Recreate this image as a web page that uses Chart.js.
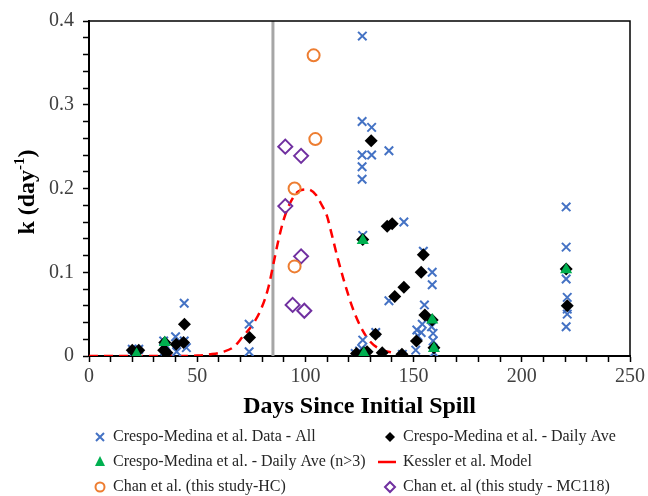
<!DOCTYPE html>
<html>
<head>
<meta charset="utf-8">
<script src="https://cdn.jsdelivr.net/npm/chart.js@4/dist/chart.umd.min.js"></script>
<style>
  body { margin: 0; background: #fff; }
  canvas { display: block; }
</style>
</head>
<body>
<canvas id="kChart" width="648" height="496"></canvas>
<script>
// Crespo-Medina et al. - all measurements
const allDays = [20, 21, 23, 22.5, 34.5, 35.5, 35, 40, 40.5, 44, 45, 44, 74, 74,
  126.3, 126.2, 130.6, 126.2, 130.6, 126.2, 126.2, 138.6, 126.5, 126.5, 126, 123, 125, 128.5, 132.5,
  145.5, 138.6, 144.8, 151.5, 151, 152, 154.5, 155, 154, 153.5,
  158.6, 158.6, 159, 159, 159.4, 158.3,
  220.5, 220.5, 220.5, 221, 221, 221, 220.5];
const allK = [0.008, 0.005, 0.008, 0.004, 0.018, 0.012, 0.006, 0.023, 0.005, 0.063, 0.010, 0.018, 0.038, 0.005,
  0.382, 0.280, 0.273, 0.240, 0.240, 0.226, 0.211, 0.245, 0.144, 0.019, 0.009, 0.003, 0.006, 0.002, 0.028,
  0.160, 0.066, 0.002, 0.031, 0.007, 0.024, 0.125, 0.061, 0.038, 0.028,
  0.100, 0.085, 0.027, 0.018, 0.004, 0.035,
  0.178, 0.130, 0.092, 0.070, 0.056, 0.050, 0.035];

// Crespo-Medina et al. - daily averages
const aveDays = [20, 23, 34.5, 35, 36, 40.3, 43.7, 44.1, 74.2, 123.6, 126.5, 127, 128.5, 130.4, 132.4,
  135.5, 137.8, 140.1, 141.3, 144.6, 145.5, 151.3, 153.5, 154.5, 155.2, 158.6, 159.4, 220.5, 221];
const aveK = [0.007, 0.007, 0.007, 0.016, 0.004, 0.014, 0.016, 0.038, 0.022, 0.003, 0.139, 0.004, 0.005, 0.257, 0.026,
  0.004, 0.155, 0.158, 0.071, 0.002, 0.082, 0.018, 0.100, 0.121, 0.049, 0.043, 0.010, 0.104, 0.060];

// Crespo-Medina et al. - daily averages with n>3
const aveN3Days = [22, 35, 126.5, 127, 158.6, 159.4, 220.5];
const aveN3K = [0.002, 0.016, 0.138, 0.003, 0.043, 0.009, 0.103];

// Kessler et al. model curve
const kesDays = [0, 40, 50, 56, 62, 67, 71, 76, 80, 83, 85.3, 87.6, 90, 93, 97, 101, 105, 107, 110, 112, 114.7, 117.7, 121.6, 125.5, 130, 134.7, 140];
const kesK = [0, 0, 0.0005, 0.002, 0.005, 0.011, 0.023, 0.039, 0.059, 0.083, 0.111, 0.139, 0.163, 0.183, 0.197, 0.199, 0.192, 0.183, 0.167, 0.147, 0.119, 0.091, 0.059, 0.035, 0.017, 0.008, 0.004];

// Chan et al. (this study)
const hcDays = [95, 95, 103.8, 104.6];
const hcK = [0.200, 0.107, 0.359, 0.259];
const mcDays = [90.7, 98, 90.7, 98, 94.1, 99.5];
const mcK = [0.250, 0.239, 0.179, 0.119, 0.061, 0.054];

// vertical marker line
const markerDay = 85;
const yRange = [0, 0.4];

const legendLabels = [
  'Crespo-Medina et al. Data - All',
  'Crespo-Medina et al. - Daily Ave',
  'Crespo-Medina et al. - Daily Ave (n>3)',
  'Kessler et al. Model',
  'Chan et al. (this study-HC)',
  'Chan et. al (this study - MC118)'
];

const toPts = (xs, ys) => xs.map((x, i) => ({ x: x, y: ys[i] }));

const BLUE = '#4472C4';
const GREEN = '#00B050';
const ORANGE = '#ED7D31';
const PURPLE = '#7030A0';
const SERIF = '"Liberation Serif", "Times New Roman", serif';

// frame, y title and the two-column legend
const extras = {
  id: 'extras',
  afterDraw(chart) {
    const c = chart.ctx;
    const a = chart.chartArea;
    c.save();
    c.strokeStyle = '#000';
    c.lineWidth = 1.5;
    c.beginPath();
    c.moveTo(a.left, a.top);
    c.lineTo(a.right, a.top);
    c.lineTo(a.right, a.bottom);
    c.stroke();

    // y axis title with superscript
    c.translate(27, 192);
    c.rotate(-Math.PI / 2);
    c.fillStyle = '#000';
    c.textBaseline = 'middle';
    const big = 'bold 24px ' + SERIF;
    const small = 'bold 15px ' + SERIF;
    c.font = big;
    const w1 = c.measureText('k (day').width;
    const w3 = c.measureText(')').width;
    c.font = small;
    const w2 = c.measureText('-1').width;
    let x = -(w1 + w2 + w3) / 2;
    c.font = big;
    c.textAlign = 'left';
    c.fillText('k (day', x, 1);
    c.font = small;
    c.fillText('-1', x + w1, -7);
    c.font = big;
    c.fillText(')', x + w1 + w2, 1);
    c.restore();

    // legend
    c.save();
    c.font = '16px ' + SERIF;
    c.textBaseline = 'middle';
    const cols = [100, 390];
    const rows = [437, 462, 487];
    legendLabels.forEach((label, i) => {
      const mx = cols[i % 2];
      const my = rows[Math.floor(i / 2)];
      drawKey(c, i, mx, my);
      c.fillStyle = '#262626';
      c.fillText(label, mx + 13, my);
    });
    c.restore();
  }
};

function drawKey(c, i, x, y) {
  c.save();
  c.lineWidth = 2;
  if (i === 0) {
    c.strokeStyle = BLUE;
    c.beginPath();
    c.moveTo(x - 4, y - 4); c.lineTo(x + 4, y + 4);
    c.moveTo(x + 4, y - 4); c.lineTo(x - 4, y + 4);
    c.stroke();
  } else if (i === 1) {
    c.fillStyle = '#000';
    c.beginPath();
    c.moveTo(x, y - 5); c.lineTo(x + 5, y); c.lineTo(x, y + 5); c.lineTo(x - 5, y);
    c.closePath(); c.fill();
  } else if (i === 2) {
    c.fillStyle = GREEN;
    c.beginPath();
    c.moveTo(x, y - 6); c.lineTo(x + 5, y + 4); c.lineTo(x - 5, y + 4);
    c.closePath(); c.fill();
  } else if (i === 3) {
    c.strokeStyle = '#FF0000';
    c.lineWidth = 2.5;
    c.beginPath();
    c.moveTo(x - 12, y); c.lineTo(x + 6, y);
    c.stroke();
  } else if (i === 4) {
    c.strokeStyle = ORANGE;
    c.beginPath();
    c.arc(x, y, 4.5, 0, Math.PI * 2);
    c.stroke();
  } else {
    c.strokeStyle = PURPLE;
    c.beginPath();
    c.moveTo(x, y - 5); c.lineTo(x + 5, y); c.lineTo(x, y + 5); c.lineTo(x - 5, y);
    c.closePath(); c.stroke();
  }
  c.restore();
}

const isMultiple = (v, step) => Math.abs(v / step - Math.round(v / step)) < 1e-6;

new Chart(document.getElementById('kChart'), {
  type: 'scatter',
  data: {
    datasets: [
      {
        label: legendLabels[2], data: toPts(aveN3Days, aveN3K), order: 0,
        pointStyle: 'triangle', pointRadius: 7, backgroundColor: GREEN, borderColor: GREEN, borderWidth: 0
      },
      {
        label: legendLabels[1], data: toPts(aveDays, aveK), order: 1,
        pointStyle: 'rectRot', pointRadius: 6.5, backgroundColor: '#000', borderColor: '#000', borderWidth: 0
      },
      {
        label: legendLabels[0], data: toPts(allDays, allK), order: 2,
        pointStyle: 'crossRot', pointRadius: 6, borderColor: BLUE, borderWidth: 2
      },
      {
        label: legendLabels[4], data: toPts(hcDays, hcK), order: 3,
        pointStyle: 'circle', pointRadius: 6, backgroundColor: 'rgba(0,0,0,0)', borderColor: ORANGE, borderWidth: 2
      },
      {
        label: legendLabels[5], data: toPts(mcDays, mcK), order: 4,
        pointStyle: 'rectRot', pointRadius: 7, backgroundColor: 'rgba(0,0,0,0)', borderColor: PURPLE, borderWidth: 2
      },
      {
        label: legendLabels[3], data: toPts(kesDays, kesK), order: 5,
        showLine: true, pointRadius: 0, borderColor: '#FF0000', borderWidth: 2.5,
        borderDash: [9, 6], cubicInterpolationMode: 'monotone'
      },
      {
        label: 'marker', data: toPts([markerDay, markerDay], yRange), order: 6,
        showLine: true, pointRadius: 0, borderColor: '#A6A6A6', borderWidth: 3
      }
    ]
  },
  options: {
    responsive: false,
    animation: false,
    layout: { padding: { top: 21, right: 18, bottom: 75, left: 0 } },
    plugins: { legend: { display: false }, tooltip: { enabled: false } },
    scales: {
      x: {
        type: 'linear', min: 0, max: 250,
        afterFit: (s) => { s.height = 65; },
        border: { color: '#000', width: 2 },
        grid: { drawOnChartArea: false, tickLength: 6, tickColor: '#000', tickWidth: 1.5 },
        ticks: {
          stepSize: 10, autoSkip: false, maxRotation: 0, padding: 3, color: '#404040',
          font: { family: SERIF, size: 20 },
          callback: (v) => isMultiple(v, 50) ? String(v) : ''
        },
        title: {
          display: true, text: 'Days Since Initial Spill', color: '#000',
          font: { family: SERIF, size: 24, weight: 'bold' }, padding: 0
        }
      },
      y: {
        type: 'linear', min: 0, max: 0.4,
        afterFit: (s) => { s.width = 89; },
        border: { color: '#000', width: 2 },
        grid: { drawOnChartArea: false, tickLength: 6, tickColor: '#000', tickWidth: 1.5 },
        ticks: {
          stepSize: 0.02, autoSkip: false, padding: 9, color: '#404040',
          font: { family: SERIF, size: 20 },
          callback: (v) => isMultiple(v, 0.1) ? (v === 0 ? '0' : v.toFixed(1)) : ''
        }
      }
    }
  },
  plugins: [extras]
});
</script>
</body>
</html>
